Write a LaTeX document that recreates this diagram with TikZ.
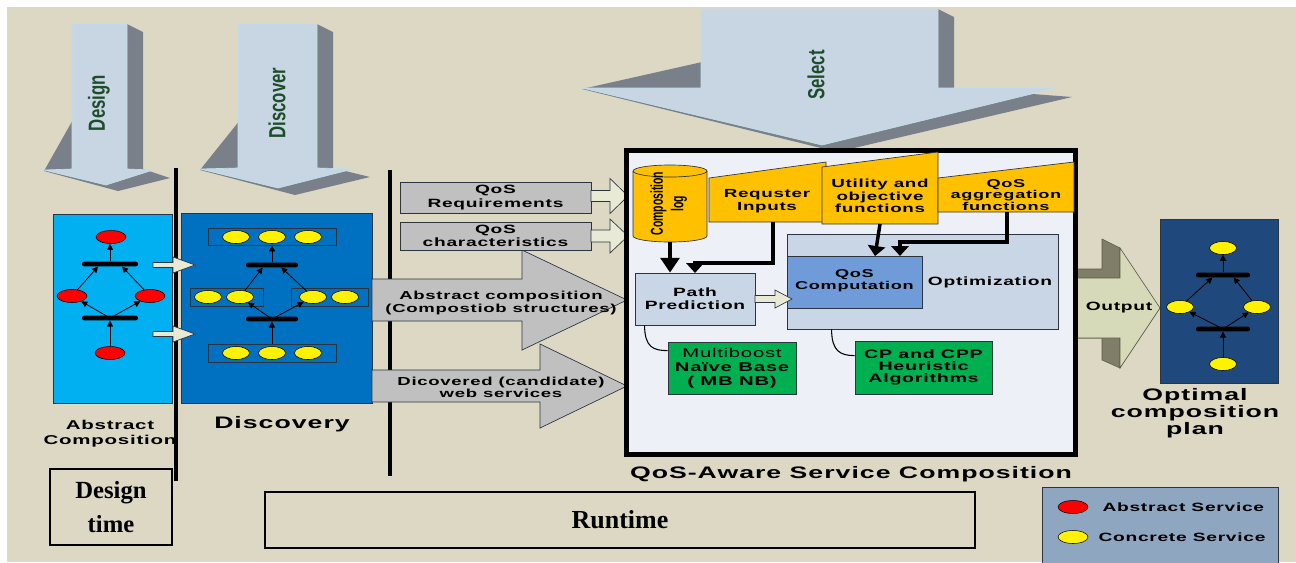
\documentclass[tikz,border=0pt]{standalone}
\usepackage{fontspec}
\setmainfont{Liberation Serif}
\newfontfamily\widefont[FakeStretch=1.6,LetterSpace=6]{Liberation Sans}
\newfontfamily\narrowfont[FakeStretch=0.72]{Liberation Sans}
\newfontfamily\lognarrow[FakeStretch=0.6]{Liberation Sans}
\usetikzlibrary{arrows.meta,shapes.geometric,positioning,fit}

\definecolor{bgbeige}{HTML}{DDD8C4}
\definecolor{arrface}{HTML}{C8D6E4}
\definecolor{arrside}{HTML}{7A8089}
\definecolor{arredge}{HTML}{BFE0E8}
\definecolor{verbgreen}{HTML}{1E4D2B}
\definecolor{abscyan}{HTML}{00B0F0}
\definecolor{discblue}{HTML}{0070C0}
\definecolor{plannavy}{HTML}{1F497D}
\definecolor{gold}{HTML}{FFC000}
\definecolor{algogreen}{HTML}{00B050}
\definecolor{steel}{HTML}{C9D6E5}
\definecolor{qcblue}{HTML}{6F9BD9}
\definecolor{paper}{HTML}{EDF1F7}
\definecolor{legendblue}{HTML}{8FA6C1}
\definecolor{inputgray}{HTML}{C0C0C0}
\definecolor{pale}{HTML}{E8EAD6}
\definecolor{outface}{HTML}{D6DAB8}
\definecolor{outside}{HTML}{807E68}
\definecolor{boxline}{HTML}{2B3440}

\tikzset{
panel/.style = {rectangle, draw=boxline, line width=0.6pt, inner sep=0pt},
lbl/.style = {align=center, inner sep=0pt, font=\widefont\bfseries\fontsize{9}{10}\selectfont},
biglbl/.style = {lbl, font=\widefont\bfseries\fontsize{12.5}{12.8}\selectfont},
verblbl/.style = {rotate=90, inner sep=0pt, text=verbgreen, font=\narrowfont\bfseries\fontsize{17.5}{18}\selectfont},% design, discover, select
timelbl/.style = {align=center, inner sep=0pt, font=\bfseries\fontsize{18.5}{25}\selectfont},
abssrv/.style = {ellipse, draw=black, line width=0.4pt, fill=red, minimum width=22.5pt, minimum height=9.75pt, inner sep=0pt},% abstract service
consrv/.style = {abssrv, fill=yellow, minimum width=20.25pt},% concrete service
srvgroup/.style = {rectangle, draw=boxline, line width=0.6pt, inner sep=0pt},
joinbar/.style = {rectangle, fill=black, rounded corners=1.5pt, minimum width=42pt, minimum height=3.4pt, inner sep=0pt},
flow/.style = {-{Triangle[length=4.5pt,width=4.5pt]}, line width=0.6pt},
heavy/.style = {-{Triangle[length=7.5pt,width=13pt]}, line width=2.6pt},
palearrow/.style = {fill=pale, draw=boxline, line width=0.5pt},
grayarrow/.style = {fill=inputgray, draw=boxline, line width=0.5pt},
trap/.style = {fill=gold, draw=boxline, line width=0.5pt},
greenlbl/.style = {lbl, font=\widefont\bfseries\fontsize{9.5}{10.5}\selectfont}
}

% block arrow: style, x from, x to, y, half shaft, half head, head length
\newcommand{\qosarrow}[7]{%
  \filldraw[#1] (#2,#4-#5) -- (#3-#7,#4-#5) -- (#3-#7,#4-#6) -- (#3,#4)
    -- (#3-#7,#4+#6) -- (#3-#7,#4+#5) -- (#2,#4+#5) -- cycle;}

\begin{document}
\begin{tikzpicture}[x=0.75pt, y=-0.75pt]
\useasboundingbox (0,0) rectangle (1296,562);
\fill[bgbeige] (7,7) rectangle (1296,562);

% design, discover, select
\fill[arrside] (127,24) -- (143,32) -- (143,169) -- (170,178) -- (118,191) -- (44,171) -- cycle;
\filldraw[fill=arrface, draw=arredge, line width=0.5pt] (44,170) -- (72,169) -- (72,24) -- (127,24) -- (127,169) -- (153,170) -- (106,185) -- cycle;
\node[verblbl] (design) at (99,103) {Design};
\fill[arrside] (317,24) -- (333,32) -- (333,168) -- (370,177) -- (295,195) -- (200,170) -- cycle;
\filldraw[fill=arrface, draw=arredge, line width=0.5pt] (200,169) -- (238,168) -- (238,24) -- (317,24) -- (317,168) -- (353,169) -- (278,188) -- cycle;
\node[verblbl] (discover) at (277,103) {Discover};
\fill[arrside] (938,9) -- (954,17) -- (954,88) -- (1072,97) -- (837,152) -- (582,89) -- cycle;
\filldraw[fill=arrface, draw=arredge, line width=0.5pt] (582,88) -- (701,88) -- (701,9) -- (938,9) -- (938,88) -- (1056,88) -- (822,145) -- cycle;
\node[verblbl] (select) at (816,75) {Select};

\draw[line width=2.4pt] (176,168) -- (176,481);
\draw[line width=2.4pt] (390,170) -- (390,476);

% abstract composition
\node[fit={(53,214) (172,403)}, panel, fill=abscyan] (absbox) {};
\node[abssrv] (a1) at (111,237) {};
\node[joinbar] (ab1) at (110,264) {};
\node[abssrv] (a2) at (72,296) {};
\node[abssrv] (a3) at (150,296) {};
\node[joinbar] (ab2) at (110,318) {};
\node[abssrv] (a4) at (110,353) {};
\draw[flow] (a4) -- (ab2);
\draw[flow] (ab2.center) -- (a2);
\draw[flow] (ab2.center) -- (a3);
\draw[flow] (a2) -- ([xshift=-9pt]ab1.south);
\draw[flow] (a3) -- ([xshift=9pt]ab1.south);
\draw[flow] (ab1) -- (ab1 |- a1.south);
\node[lbl, font=\widefont\bfseries\fontsize{9.6}{11.5}\selectfont] (abslbl) at (110,434) {Abstract\\Composition};

% discovery
\node[fit={(181,213) (372,403)}, panel, fill=discblue] (discbox) {};
\node[fit={(208,228) (336,245)}, srvgroup] (g1) {};
\node[fit={(190,288) (263,306)}, srvgroup] (g2) {};
\node[fit={(291,288) (368,306)}, srvgroup] (g3) {};
\node[fit={(208,344) (336,362)}, srvgroup] (g4) {};
\foreach \x [count=\i] in {236,272,308} {
  \node[consrv] (t\i) at (\x,237) {};
  \node[consrv] (u\i) at (\x,353) {};
}
\node[consrv] (l1) at (208,297) {};
\node[consrv] (l2) at (240,297) {};
\node[consrv] (r1) at (313,297) {};
\node[consrv] (r2) at (345,297) {};
\node[joinbar, minimum width=39pt] (db1) at (272,265) {};
\node[joinbar, minimum width=39pt] (db2) at (272,319) {};
\draw[flow] (g4) -- (db2);
\draw[flow] (db2.center) -- (l2);
\draw[flow] (db2.center) -- (r1);
\draw[flow] (l2) -- ([xshift=-7pt]db1.south);
\draw[flow] (r1) -- ([xshift=7pt]db1.south);
\draw[flow] (db1) -- (g1);
\node[biglbl] (disclbl) at (282,424) {Discovery};

\qosarrow{palearrow}{153}{195}{265}{2.5}{8}{22}
\qosarrow{palearrow}{153}{195}{334}{2.5}{8}{22}

% inputs of the selection
\qosarrow{grayarrow}{372}{627}{300}{21}{50}{105}
\node[lbl, font=\widefont\bfseries\fontsize{8.7}{9.2}\selectfont] (abscomp) at (501,303) {Abstract composition\\(Compostiob structures)};
\qosarrow{grayarrow}{372}{627}{386}{16}{42}{87}
\node[lbl, font=\widefont\bfseries\fontsize{8.7}{9.2}\selectfont] (dicov) at (501,387) {Dicovered (candidate)\\web services};
\node[fit={(400,182) (591,213)}, panel, fill=inputgray] (qreq) {};
\node[lbl] (qreqlbl) at (qreq.center) {QoS\\Requirements};
\qosarrow{palearrow}{591}{628}{196}{5.5}{17.5}{18}
\node[fit={(400,222) (591,250)}, panel, fill=inputgray] (qchar) {};
\node[lbl] (qcharlbl) at (qchar.center) {QoS\\characteristics};
\qosarrow{palearrow}{591}{628}{236}{6}{17}{18}

% output
\fill[outside, draw=outside!70!black, line width=0.4pt] (1076,269) -- (1102,269) -- (1102,239) -- (1120,248) -- (1120,368) -- (1102,360) -- (1102,338) -- (1076,338) -- cycle;
\filldraw[fill=outface, draw=outside!70!black, line width=0.5pt] (1073,278) -- (1120,278) -- (1120,248) -- (1160,308) -- (1120,368) -- (1120,338) -- (1073,338) -- cycle;
\node[lbl] (outlbl) at (1119,308) {Output};

% QoS-aware service composition
\node[fit={(626,150) (1075,454)}, draw=black, line width=3.75pt, fill=paper, inner sep=0pt] (main) {};
\node[biglbl] (maincap) at (851,474) {QoS-Aware Service Composition};

\filldraw[fill=gold, draw=boxline, line width=0.5pt] (633,171) -- (633,236) arc[start angle=180, end angle=360, x radius=27.75pt, y radius=4.5pt] -- (707,171) arc[start angle=0, end angle=180, x radius=27.75pt, y radius=4.5pt] -- cycle;
\draw[boxline, line width=0.5pt] (633,171) arc[start angle=180, end angle=360, x radius=27.75pt, y radius=4.5pt];
\node[fit={(633,165) (707,242)}, inner sep=0pt] (log) {};
\node[rotate=90, align=center, inner sep=0pt, font=\lognarrow\bfseries\fontsize{13}{15.5}\selectfont] (loglbl) at ([xshift=-1pt]log.center) {Composition\\log};

\filldraw[trap] (709,178) -- (826,162) -- (826,222) -- (709,222) -- cycle;
\node[lbl, font=\widefont\bfseries\fontsize{8.8}{9.8}\selectfont] (reqlbl) at (767,201) {Requster\\Inputs};
\filldraw[trap] (822,167) -- (938,152) -- (938,224) -- (822,224) -- cycle;
\node[lbl, font=\widefont\bfseries\fontsize{8.8}{9.2}\selectfont] (utillbl) at (880,196) {Utility and\\objective\\functions};
\filldraw[trap] (938,178) -- (1074,162) -- (1074,212) -- (938,212) -- cycle;
\node[lbl, font=\widefont\bfseries\fontsize{8.5}{8.8}\selectfont] (agglbl) at (1006,195) {QoS\\aggregation\\functions};
\coordinate (reqout) at (773,222);
\coordinate (utilout) at (880,224);
\coordinate (aggout) at (1007,212);

\node[fit={(787,234) (1058,329)}, panel, fill=steel] (opt) {};
\node[lbl] (optlbl) at (990,282) {Optimization};
\node[fit={(787,256) (922,308)}, panel, fill=qcblue] (qc) {};
\node[lbl, font=\widefont\bfseries\fontsize{8.5}{9}\selectfont] (qclbl) at ([yshift=1pt]qc.center) {QoS\\Computation};
\node[fit={(635,273) (755,325)}, panel, fill=steel] (pp) {};
\node[lbl] (pplbl) at (pp.center) {Path\\Prediction};
\qosarrow{palearrow}{755}{792}{299}{3.5}{9}{17}
\coordinate (ppin) at (695,273);
\coordinate (qcin1) at (875,256);
\coordinate (qcin2) at (900,256);

\draw[heavy, -{Triangle[length=11pt,width=14pt]}] (log.south) -- (log.south |- pp.north);
\draw[heavy] (reqout) |- ([yshift=7.5pt]ppin) -- (ppin);
\draw[heavy] (utilout) -- (qcin1);
\draw[heavy] (aggout) |- ([yshift=10.5pt]qcin2) -- (qcin2);

\node[fit={(668,342) (796,394)}, panel, fill=algogreen] (mb) {};
\node[greenlbl] (mblbl) at (mb.center) {{\mdseries Multiboost}\\Naïve Base\\( MB NB)};
\node[fit={(855,341) (992,394)}, panel, fill=algogreen] (cp) {};
\node[greenlbl, font=\widefont\bfseries\fontsize{9.2}{9}\selectfont] (cplbl) at (cp.center) {CP and CPP\\Heuristic\\Algorithms};
\draw[line width=0.8pt] ([xshift=7.5pt]pp.south west) .. controls +(0,22) and +(-14,0) .. ([yshift=-6.75pt]mb.north west);
\draw[line width=0.8pt] ([xshift=33.75pt]opt.south west) .. controls +(0,22) and +(-14,0) .. ([yshift=-11.25pt]cp.north west);

% optimal plan
\node[fit={(1160,219) (1278,383)}, panel, fill=plannavy] (plan) {};
\node[consrv] (p1) at (1223,248) {};
\node[joinbar, minimum width=40.5pt] (pb1) at (1223,275) {};
\node[consrv] (p2) at (1180,307) {};
\node[consrv] (p3) at (1257,307) {};
\node[joinbar, minimum width=40.5pt] (pb2) at (1223,329) {};
\node[consrv] (p4) at (1223,364) {};
\draw[flow] (p4) -- (pb2);
\draw[flow] (pb2.center) -- (p2);
\draw[flow] (pb2.center) -- (p3);
\draw[flow] (p2) -- ([xshift=-8pt]pb1.south);
\draw[flow] (p3) -- ([xshift=8pt]pb1.south);
\draw[flow] (pb1) -- (p1);
\node[biglbl] (planlbl) at (1195,413) {Optimal\\composition\\plan};

% legend
\node[fit={(1042,487) (1278,566)}, panel, fill=legendblue] (legend) {};
\node[abssrv] (keyabs) at (1073,507) {};
\node[lbl, right=10.5pt of keyabs] (keyabslbl) {Abstract Service};
\node[consrv, minimum width=22.5pt] (keycon) at (1073,537) {};
\node[lbl, right=7.5pt of keycon] (keyconlbl) {Concrete Service};

% time frames
\node[fit={(50,469) (172,545)}, draw=black, line width=1pt, inner sep=0pt] (dtime) {};
\node[timelbl] (dtimelbl) at (dtime.center) {Design\\time};
\node[fit={(265,492) (975,548)}, draw=black, line width=1pt, inner sep=0pt] (rtime) {};
\node[timelbl, font=\bfseries\fontsize{19.5}{22}\selectfont] (rtimelbl) at (rtime.center) {Runtime};
\end{tikzpicture}
\end{document}
